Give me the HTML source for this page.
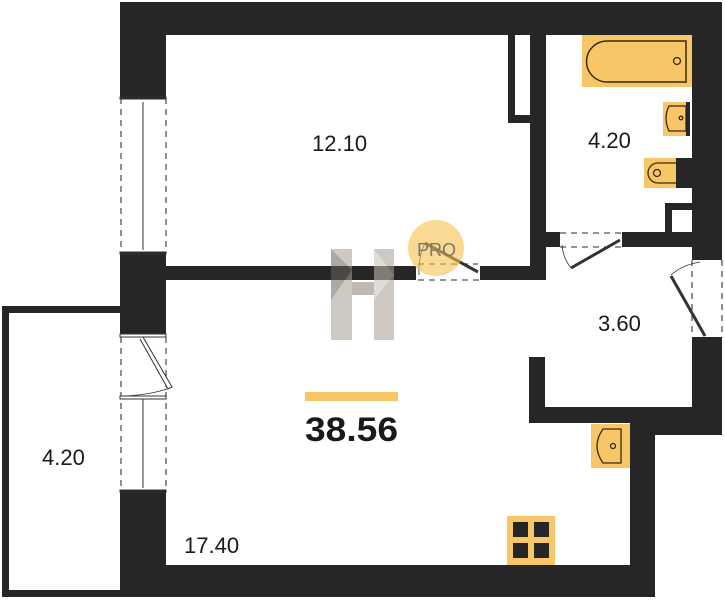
<!DOCTYPE html>
<html><head><meta charset="utf-8"><style>
html,body{margin:0;padding:0;background:#fff;}
svg{display:block;}
text{font-family:"Liberation Sans",sans-serif;fill:#1a1a1a;}
</style></head><body>
<svg width="725" height="600" viewBox="0 0 725 600" xmlns="http://www.w3.org/2000/svg">
<rect width="725" height="600" fill="#fff"/>
<g fill="#262626">
<!-- top wall -->
<rect x="120" y="2" width="602" height="33"/>
<!-- left wall segments -->
<rect x="120" y="2" width="46" height="96"/>
<rect x="120" y="253" width="46" height="82"/>
<rect x="120" y="492" width="46" height="105"/>
<!-- bottom wall -->
<rect x="120" y="565" width="535" height="32"/>
<!-- balcony -->
<rect x="2" y="306" width="118" height="7"/>
<rect x="2" y="306" width="7" height="291"/>
<rect x="2" y="590" width="120" height="7"/>
<!-- right wall -->
<rect x="692" y="2" width="30" height="258"/>
<rect x="692" y="337" width="30" height="98"/>
<rect x="655" y="407" width="67" height="28"/>
<rect x="529" y="407" width="126" height="16"/>
<rect x="529" y="357" width="16" height="66"/>
<rect x="630" y="407" width="25" height="190"/>
<!-- interior wall 12.10/17.40 -->
<rect x="166" y="266" width="250" height="14"/>
<rect x="480" y="266" width="66" height="14"/>
<rect x="530" y="34" width="16" height="246"/>
<!-- closet -->
<rect x="508" y="34" width="7" height="89"/>
<rect x="508" y="115" width="22" height="8"/>
<!-- bathroom bottom wall -->
<rect x="546" y="232" width="14" height="15"/>
<rect x="622" y="232" width="70" height="15"/>
<rect x="665" y="203" width="27" height="7"/>
<rect x="665" y="203" width="7" height="29"/>
</g>
<!-- windows left -->
<g stroke="#555" stroke-width="1.3" stroke-dasharray="6,5" fill="none">
<line x1="121" y1="98" x2="121" y2="253"/><line x1="166" y1="98" x2="166" y2="253"/>
<line x1="121" y1="337" x2="121" y2="492"/><line x1="166" y1="337" x2="166" y2="492"/>
<line x1="418" y1="280" x2="480" y2="280"/><line x1="418" y1="264" x2="478" y2="264"/>
<line x1="560" y1="233" x2="622" y2="233"/><line x1="560" y1="247" x2="622" y2="247"/>
<line x1="692" y1="260" x2="692" y2="337"/><line x1="722" y1="260" x2="722" y2="337"/>
</g>
<g stroke="#333" fill="none">
<line x1="143" y1="102" x2="143" y2="250" stroke-width="1"/>
<line x1="143" y1="399" x2="143" y2="488" stroke-width="1"/>
<rect x="120" y="97" width="46" height="2" fill="#222"/>
<rect x="120" y="252" width="46" height="2" fill="#222"/>
<rect x="120" y="334" width="46" height="3" fill="#fff" stroke-width="1"/>
<rect x="120" y="396" width="46" height="3" fill="#fff" stroke-width="1"/>
<rect x="120" y="490" width="46" height="2" fill="#222"/>
<path d="M143 337 L172 387 L168 389 L140 339" stroke-width="1" fill="#fff"/>
<path d="M124 396 Q150 395 170 388" stroke-width="0.8"/>
<!-- bathroom door -->
<line x1="620" y1="240" x2="571" y2="268" stroke-width="3"/>
<path d="M562 245 Q563 258 571 268" stroke-width="0.8"/>
<!-- right door -->
<line x1="705" y1="336" x2="671" y2="276" stroke-width="3"/>
<path d="M671 275 Q682 265 700 262" stroke-width="0.8"/>
<!-- 12.10 door -->
<line x1="478" y1="272" x2="425" y2="243" stroke-width="3"/>
<path d="M425 243 Q418 258 419 275" stroke-width="0.8"/>
</g>
<!-- fixtures -->
<g fill="#f7c667" stroke="#3a2a10" stroke-width="1.3">
<rect x="582" y="35" width="110" height="52" stroke="none"/>
<path d="M607 41 H686 V82 H607 A20.5 20.5 0 0 1 607 41 Z" fill="none" stroke-width="1.5"/>
<circle cx="677" cy="61" r="3.5" fill="none"/>
<rect x="663" y="102" width="26" height="34" stroke="none"/>
<path d="M669 106 H686 V131 H669 Q663 118 669 106 Z" fill="none"/>
<circle cx="681" cy="118" r="1.8" fill="none"/>
<rect x="644" y="158" width="32" height="30" stroke="none"/>
<path d="M676 163 H658 A10 10 0 0 0 658 183 H676" fill="none"/>
<circle cx="657" cy="173" r="3.5" fill="none"/>
<rect x="591" y="424" width="39" height="44" stroke="none"/>
<path d="M603 429 H621 V463 H603 Q591 446 603 429 Z" fill="none"/>
<circle cx="613" cy="446" r="2.5" fill="none"/>
<rect x="507" y="516" width="48" height="49" stroke="none"/>
</g>
<rect x="686" y="102" width="4" height="34" fill="#262626"/>
<rect x="676" y="158" width="16" height="30" fill="#262626"/>
<g fill="#262626">
<rect x="513" y="522" width="15" height="15"/><rect x="534" y="522" width="15" height="15"/>
<rect x="513" y="543" width="15" height="15"/><rect x="534" y="543" width="15" height="15"/>
</g>
<!-- watermark H -->
<g opacity="0.55">
<rect x="331" y="249" width="21" height="91" fill="#a89e94"/>
<rect x="374" y="249" width="20" height="91" fill="#a89e94"/>
<rect x="352" y="282" width="22" height="13" fill="#8a8076"/>
<polygon points="331,249 352,270 331,300" fill="#6b6259"/>
<polygon points="374,249 394,275 374,300" fill="#c9c1b9"/>
</g>
<!-- PRO circle -->
<circle cx="436" cy="248" r="28" fill="#f7c24a" opacity="0.6"/>
<text x="417" y="256" font-size="18" fill="#777" style="fill:#777">PRO</text>
<!-- labels -->
<text x="312" y="151" font-size="22">12.10</text>
<text x="588" y="148" font-size="22">4.20</text>
<text x="598" y="331" font-size="22">3.60</text>
<text x="42" y="465" font-size="22">4.20</text>
<text x="184" y="553" font-size="22">17.40</text>
<rect x="305" y="392" width="93" height="9" fill="#f7c667"/>
<text x="305" y="441" font-size="34" font-weight="bold" textLength="93" lengthAdjust="spacingAndGlyphs">38.56</text>
</svg>
</body></html>
